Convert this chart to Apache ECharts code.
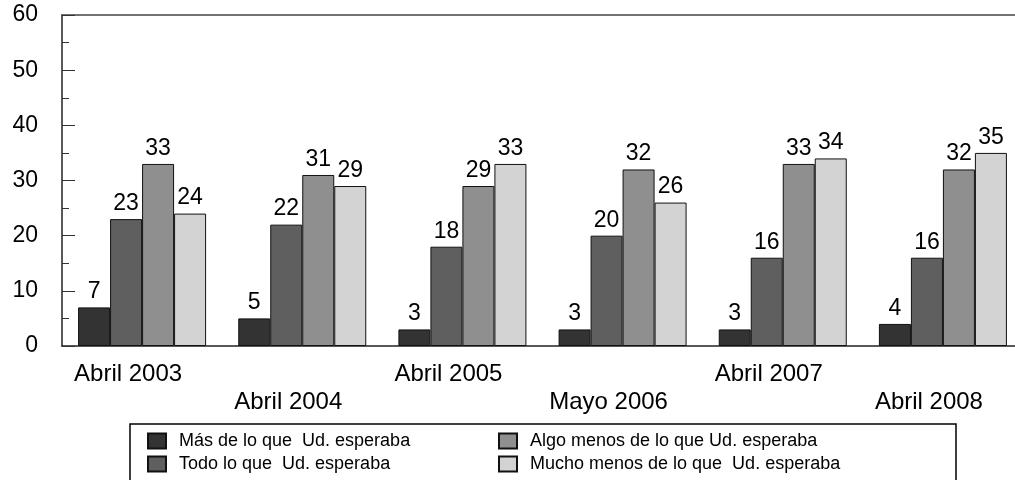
<!DOCTYPE html>
<html>
<head>
<meta charset="utf-8">
<script src="https://cdn.jsdelivr.net/npm/echarts@6/dist/echarts.min.js"></script>
<style>
  html, body { margin: 0; padding: 0; background: #fff; overflow: hidden; }
  /* plot runs a little past the right edge, as in the original */
  #chart { width: 1023px; height: 480px; }
</style>
</head>
<body>
<div id="chart"></div>
<script>
const categories = ["Abril 2003", "Abril 2004", "Abril 2005", "Mayo 2006", "Abril 2007", "Abril 2008"];
const seriesNames = [
  "Más de lo que  Ud. esperaba",
  "Todo lo que  Ud. esperaba",
  "Algo menos de lo que Ud. esperaba",
  "Mucho menos de lo que  Ud. esperaba"
];
const masValues = [7, 5, 3, 3, 3, 4];
const todoValues = [23, 22, 18, 20, 16, 16];
const algoValues = [33, 31, 29, 32, 33, 32];
const muchoValues = [24, 29, 33, 26, 34, 35];
const yTicks = [0, 10, 20, 30, 40, 50, 60];

const colors = ["#333333", "#5f5f5f", "#8f8f8f", "#d3d3d3"];
const font = "'Liberation Sans', Arial, sans-serif";

const chart = echarts.init(document.getElementById("chart"));

// one bar series per answer
const makeSeries = (name, data, color) => ({
  name,
  type: "bar",
  data,
  barWidth: 32,
  barGap: "0%",
  itemStyle: { color, borderColor: "#111", borderWidth: 1 },
  label: {
    show: true,
    position: "top",
    distance: 4,
    color: "#000",
    fontSize: 23,
    fontFamily: font
  }
});

chart.setOption({
  animation: false,
  grid: { left: 62, right: 0, top: 15, bottom: 134 },
  legend: {
    data: [seriesNames[0], seriesNames[2], seriesNames[1], seriesNames[3]],
    left: 130,
    top: 424,
    width: 700,
    orient: "horizontal",
    icon: "rect",
    itemWidth: 18,
    itemHeight: 15,
    itemGap: 5,
    padding: [8, 112, 14, 17],
    borderColor: "#000",
    borderWidth: 1.5,
    borderRadius: 0,
    textStyle: {
      fontSize: 18,
      fontFamily: font,
      color: "#000",
      width: 314,
      lineHeight: 15,
      padding: [0, 0, 0, 8]
    }
  },
  xAxis: [
    {
      type: "category",
      data: categories,
      axisLine: { lineStyle: { color: "#222", width: 1.5 } },
      axisTick: { show: false },
      axisLabel: {
        interval: 0,
        margin: 14,
        fontSize: 24,
        lineHeight: 28,
        color: "#000",
        fontFamily: font,
        padding: [0, 28, 0, 0],
        formatter: (v, i) => (i % 2 === 1 ? "\n" + v : v)
      }
    },
    {
      type: "category",
      position: "top",
      data: categories,
      axisLine: { show: true, lineStyle: { color: "#444", width: 1.5 } },
      axisTick: { show: false },
      axisLabel: { show: false }
    }
  ],
  yAxis: {
    type: "value",
    min: yTicks[0],
    max: yTicks[yTicks.length - 1],
    interval: 10,
    axisLine: { show: true, lineStyle: { color: "#222", width: 1.5 } },
    axisTick: { show: true, inside: true, length: 13, lineStyle: { color: "#333" } },
    minorTick: { show: true, splitNumber: 2, length: 7, lineStyle: { color: "#333" } },
    splitLine: { show: false },
    axisLabel: { margin: 24, fontSize: 23, color: "#000", fontFamily: font }
  },
  series: [
    makeSeries(seriesNames[0], masValues, colors[0]),
    makeSeries(seriesNames[1], todoValues, colors[1]),
    makeSeries(seriesNames[2], algoValues, colors[2]),
    makeSeries(seriesNames[3], muchoValues, colors[3])
  ]
});
</script>
</body>
</html>
